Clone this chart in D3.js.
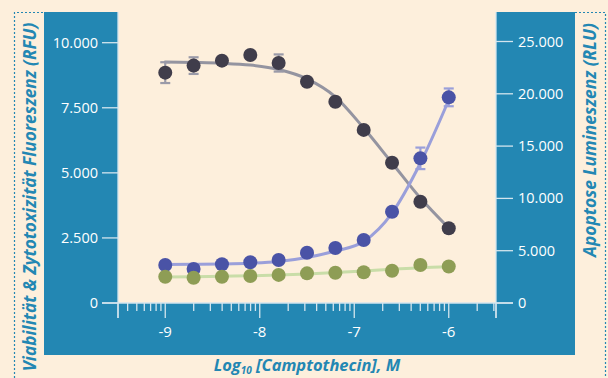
<!DOCTYPE html>
<html><head><meta charset="utf-8">
<script src="https://cdn.jsdelivr.net/npm/d3@7"></script>
<style>
html,body{margin:0;padding:0;background:#FDEFDC;}
svg{display:block;font-family:"Open Sans","Lato",sans-serif;}
</style></head>
<body>
<svg id="c" width="608" height="378"></svg>
<script>
// ---- data ----
const logConc = [-9, -8.7, -8.4, -8.1, -7.8, -7.5, -7.2, -6.9, -6.6, -6.3, -6.0];
const viability = [8850, 9120, 9310, 9530, 9220, 8500, 7730, 6650, 5390, 3890, 2870];
const viabilityErr = [400, 320, 60, 60, 330, 60, 60, 60, 60, 60, 60];
const viabilityFit = [9260, 9240, 9210, 9140, 8970, 8610, 7920, 6720, 5380, 4030, 2880];
const apoptosis = [3630, 3250, 3700, 3890, 4110, 4810, 5260, 6020, 8730, 13830, 19660];
const apoptosisErr = [150, 150, 150, 150, 150, 150, 150, 150, 150, 1030, 850];
const apoptosisFit = [3680, 3700, 3730, 3800, 3970, 4350, 4970, 5880, 8600, 13380, 19410];
const cytotox = [1010, 970, 1010, 1040, 1080, 1140, 1160, 1180, 1240, 1460, 1400];
const cytotoxFit = [1000, 1010, 1030, 1045, 1075, 1115, 1170, 1230, 1295, 1357, 1395];
const leftTicks = [0, 2500, 5000, 7500, 10000];
const leftTickLabels = ["0", "2.500", "5.000", "7.500", "10.000"];
const rightTicks = [0, 5000, 10000, 15000, 20000, 25000];
const rightTickLabels = ["0", "5.000", "10.000", "15.000", "20.000", "25.000"];
const xMajor = [-9, -8, -7, -6];
const xMajorLabels = ["-9", "-8", "-7", "-6"];
const xTitle = "Log";
const xTitleSub = "10";
const xTitleRest = " [Camptothecin], M";
const leftTitle = "Viabilität & Zytotoxizität Fluoreszenz (RFU)";
const rightTitle = "Apoptose Lumineszenz (RLU)";

// ---- layout ----
const BLUE = "#2387B3", CREAM = "#FDEFDC", TICK = "#D3E5EE";
const svg = d3.select("#c");
const x = d3.scaleLinear().domain([-9.5, -5.5]).range([118, 496]);
const yL = d3.scaleLinear().domain([0, 10000]).range([303, 42.7]);
const yR = d3.scaleLinear().domain([0, 25000]).range([303, 41.5]);

// frame
svg.append("rect").attr("x", 44).attr("y", 12).attr("width", 531).attr("height", 343).attr("fill", BLUE);
svg.append("rect").attr("x", 118).attr("y", 0).attr("width", 378).attr("height", 303).attr("fill", CREAM);
const dotted = svg.append("g").attr("stroke", BLUE).attr("stroke-width", 1.2).attr("stroke-dasharray", "2,2").attr("fill", "none");
dotted.append("path").attr("d", "M14.5,378V12.5H44");
dotted.append("path").attr("d", "M575,12.5H605.5V378");

// axis lines
const ax = svg.append("g").attr("stroke", TICK).attr("stroke-width", 1.3).attr("fill", "none");
ax.append("line").attr("x1", 118).attr("x2", 118).attr("y1", 12).attr("y2", 318);
ax.append("line").attr("x1", 496).attr("x2", 496).attr("y1", 12).attr("y2", 318);
ax.append("line").attr("x1", 102).attr("x2", 513).attr("y1", 303).attr("y2", 303);

// left ticks
leftTicks.forEach((v, i) => {
  ax.append("line").attr("x1", 102).attr("x2", 118).attr("y1", yL(v)).attr("y2", yL(v));
  svg.append("text").attr("x", 98).attr("y", yL(v) + 5).attr("text-anchor", "end")
    .attr("fill", "#fff").attr("font-size", 14.5).text(leftTickLabels[i]);
});
rightTicks.forEach((v, i) => {
  ax.append("line").attr("x1", 496).attr("x2", 513).attr("y1", yR(v)).attr("y2", yR(v));
  svg.append("text").attr("x", 518).attr("y", yR(v) + 5).attr("text-anchor", "start")
    .attr("fill", "#fff").attr("font-size", 14.5).text(rightTickLabels[i]);
});

// x ticks: minor log ticks + major
const [d0, d1] = x.domain();
for (let e = Math.floor(d0); e <= Math.ceil(d1); e++) {
  for (let k = 2; k <= 9; k++) {
    const lv = e + Math.log10(k);
    if (lv > d0 && lv < d1) ax.append("line").attr("x1", x(lv)).attr("x2", x(lv)).attr("y1", 303).attr("y2", 311);
  }
}
[d0, d1].concat(xMajor).forEach(v => {
  ax.append("line").attr("x1", x(v)).attr("x2", x(v)).attr("y1", 303).attr("y2", 318);
});
xMajor.forEach((v, i) => {
  svg.append("text").attr("x", x(v)).attr("y", 337).attr("text-anchor", "middle")
    .attr("fill", "#fff").attr("font-size", 15).text(xMajorLabels[i]);
});

// titles
const xt = svg.append("text").attr("x", 307).attr("y", 371).attr("text-anchor", "middle")
  .attr("fill", BLUE).attr("font-size", 16.5).attr("font-weight", "bold").attr("font-style", "italic");
xt.append("tspan").text(xTitle);
xt.append("tspan").attr("font-size", 10).attr("dy", 3).text(xTitleSub);
xt.append("tspan").attr("dy", -3).text(xTitleRest);

function vTitle(txt, cx, cy, len) {
  const t = svg.append("text").attr("transform", `translate(${cx},${cy}) rotate(-90)`)
    .attr("text-anchor", "middle").attr("fill", BLUE).attr("font-size", 16)
    .attr("font-weight", "bold").attr("font-style", "italic").text(txt);
  const w = t.node().getComputedTextLength();
  t.attr("font-size", 16 * len / w);
}
vTitle(leftTitle, 36, 197, 349);
vTitle(rightTitle, 596, 140, 234);

// lines
const plot = svg.append("g");
function fitLine(vals, ys, color) {
  const line = d3.line().x((d, i) => x(logConc[i])).y(d => ys(d)).curve(d3.curveMonotoneX);
  plot.append("path").attr("d", line(vals)).attr("fill", "none").attr("stroke", color)
    .attr("stroke-width", 3).attr("stroke-linecap", "round");
}
fitLine(viabilityFit, yL, "#9494A0");
fitLine(apoptosisFit, yR, "#9A9FDA");
fitLine(cytotoxFit, yL, "#C9DDA8");

function errBars(vals, errs, ys, color) {
  const g = plot.append("g").attr("stroke", color).attr("stroke-width", 2.2);
  vals.forEach((v, i) => {
    const cx = x(logConc[i]), t = ys(v + errs[i]), b = ys(v - errs[i]);
    g.append("line").attr("x1", cx).attr("x2", cx).attr("y1", t).attr("y2", b);
    g.append("line").attr("x1", cx - 5).attr("x2", cx + 5).attr("y1", t).attr("y2", t);
    g.append("line").attr("x1", cx - 5).attr("x2", cx + 5).attr("y1", b).attr("y2", b);
  });
}
errBars(viability, viabilityErr, yL, "#9A9AA8");
errBars(apoptosis, apoptosisErr, yR, "#9A9FDA");

function dots(vals, ys, color) {
  plot.append("g").selectAll("circle").data(vals).join("circle")
    .attr("cx", (d, i) => x(logConc[i])).attr("cy", d => ys(d)).attr("r", 7).attr("fill", color);
}
dots(viability, yL, "#403D4B");
dots(apoptosis, yR, "#4A53A6");
dots(cytotox, yL, "#8E9D55");
</script>
</body></html>
